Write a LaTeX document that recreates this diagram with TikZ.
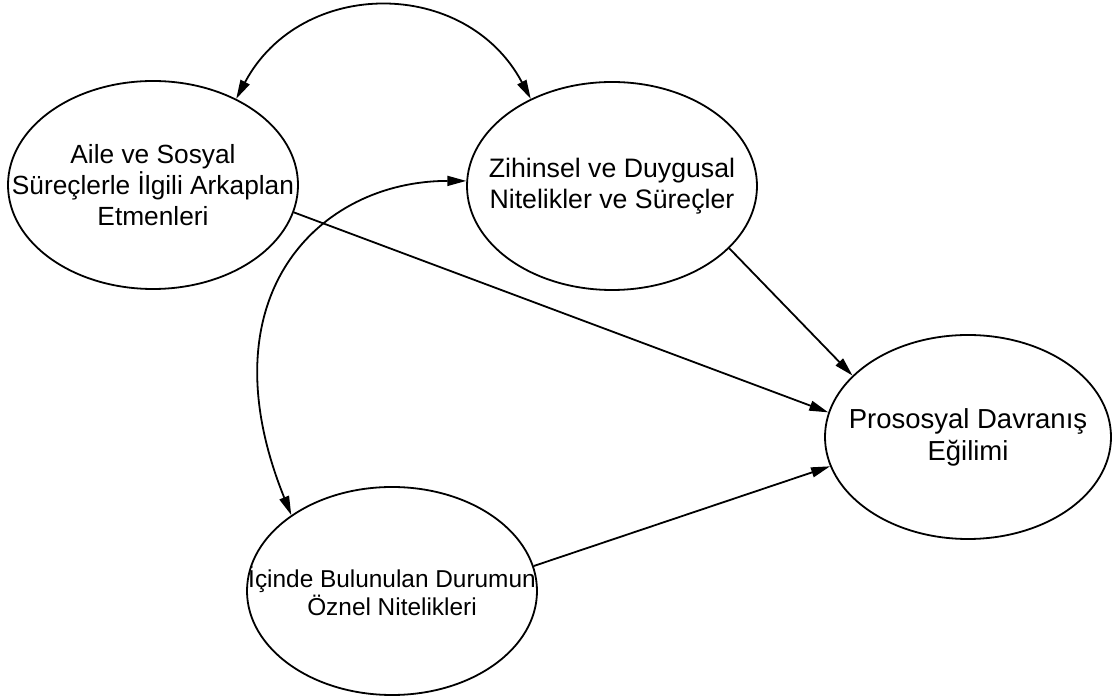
\documentclass[tikz,border=0pt]{standalone}
\usepackage{fontspec}
\setmainfont{Liberation Sans}
\usetikzlibrary{arrows.meta,shapes.geometric}

\tikzset{
    factor/.style={ellipse, draw, line width=1.8pt, minimum width=290pt, minimum height=208pt, inner sep=0pt},
    factortext/.style={align=center, inner sep=0pt, font=\fontsize{26.3}{31}\selectfont},
    link/.style={line width=1.8pt, -{Triangle[length=19pt,width=10pt]}},
    twolink/.style={line width=1.8pt, {Triangle[length=19pt,width=10pt]}-{Triangle[length=19pt,width=10pt]}}
}

\begin{document}
\begin{tikzpicture}[x=1pt,y=1pt]
    \useasboundingbox (0,0) rectangle (1112,696);

    % Factors
    \node[factor] (aile) at (153,511) {};
    \node[factortext] (aile-t) at (aile) {Aile ve Sosyal\\Süreçlerle İlgili Arkaplan\\Etmenleri};

    \node[factor] (zih) at (612,510) {};
    \node[factortext, font=\fontsize{26.7}{31}\selectfont] (zih-t) at (zih) {Zihinsel ve Duygusal\\Nitelikler ve Süreçler};

    \node[factor, minimum width=286pt, minimum height=204pt] (pros) at (968,259) {};
    \node[factortext, font=\fontsize{27.5}{32}\selectfont] (pros-t) at (pros) {Prososyal Davranış\\Eğilimi};

    \node[factor] (inner) at (392,105) {};
    \node[factortext, font=\fontsize{24.4}{28}\selectfont] (inner-t) at (inner) {İçinde Bulunulan Durumun\\Öznel Nitelikleri};

    % Correlations
    \draw[twolink] (aile.46) to[out=62, in=118, looseness=1.2] (zih.133);
    \draw[twolink] (inner.143) to[out=112, in=180, out looseness=1.6, in looseness=1.0] (zih.178);

    % Paths to behaviour
    \draw[link] (aile.-11) -- (pros.170);
    \draw[link] (zih.-28) -- (pros.152);
    \draw[link] (inner.10) -- (pros.192);
\end{tikzpicture}
\end{document}
